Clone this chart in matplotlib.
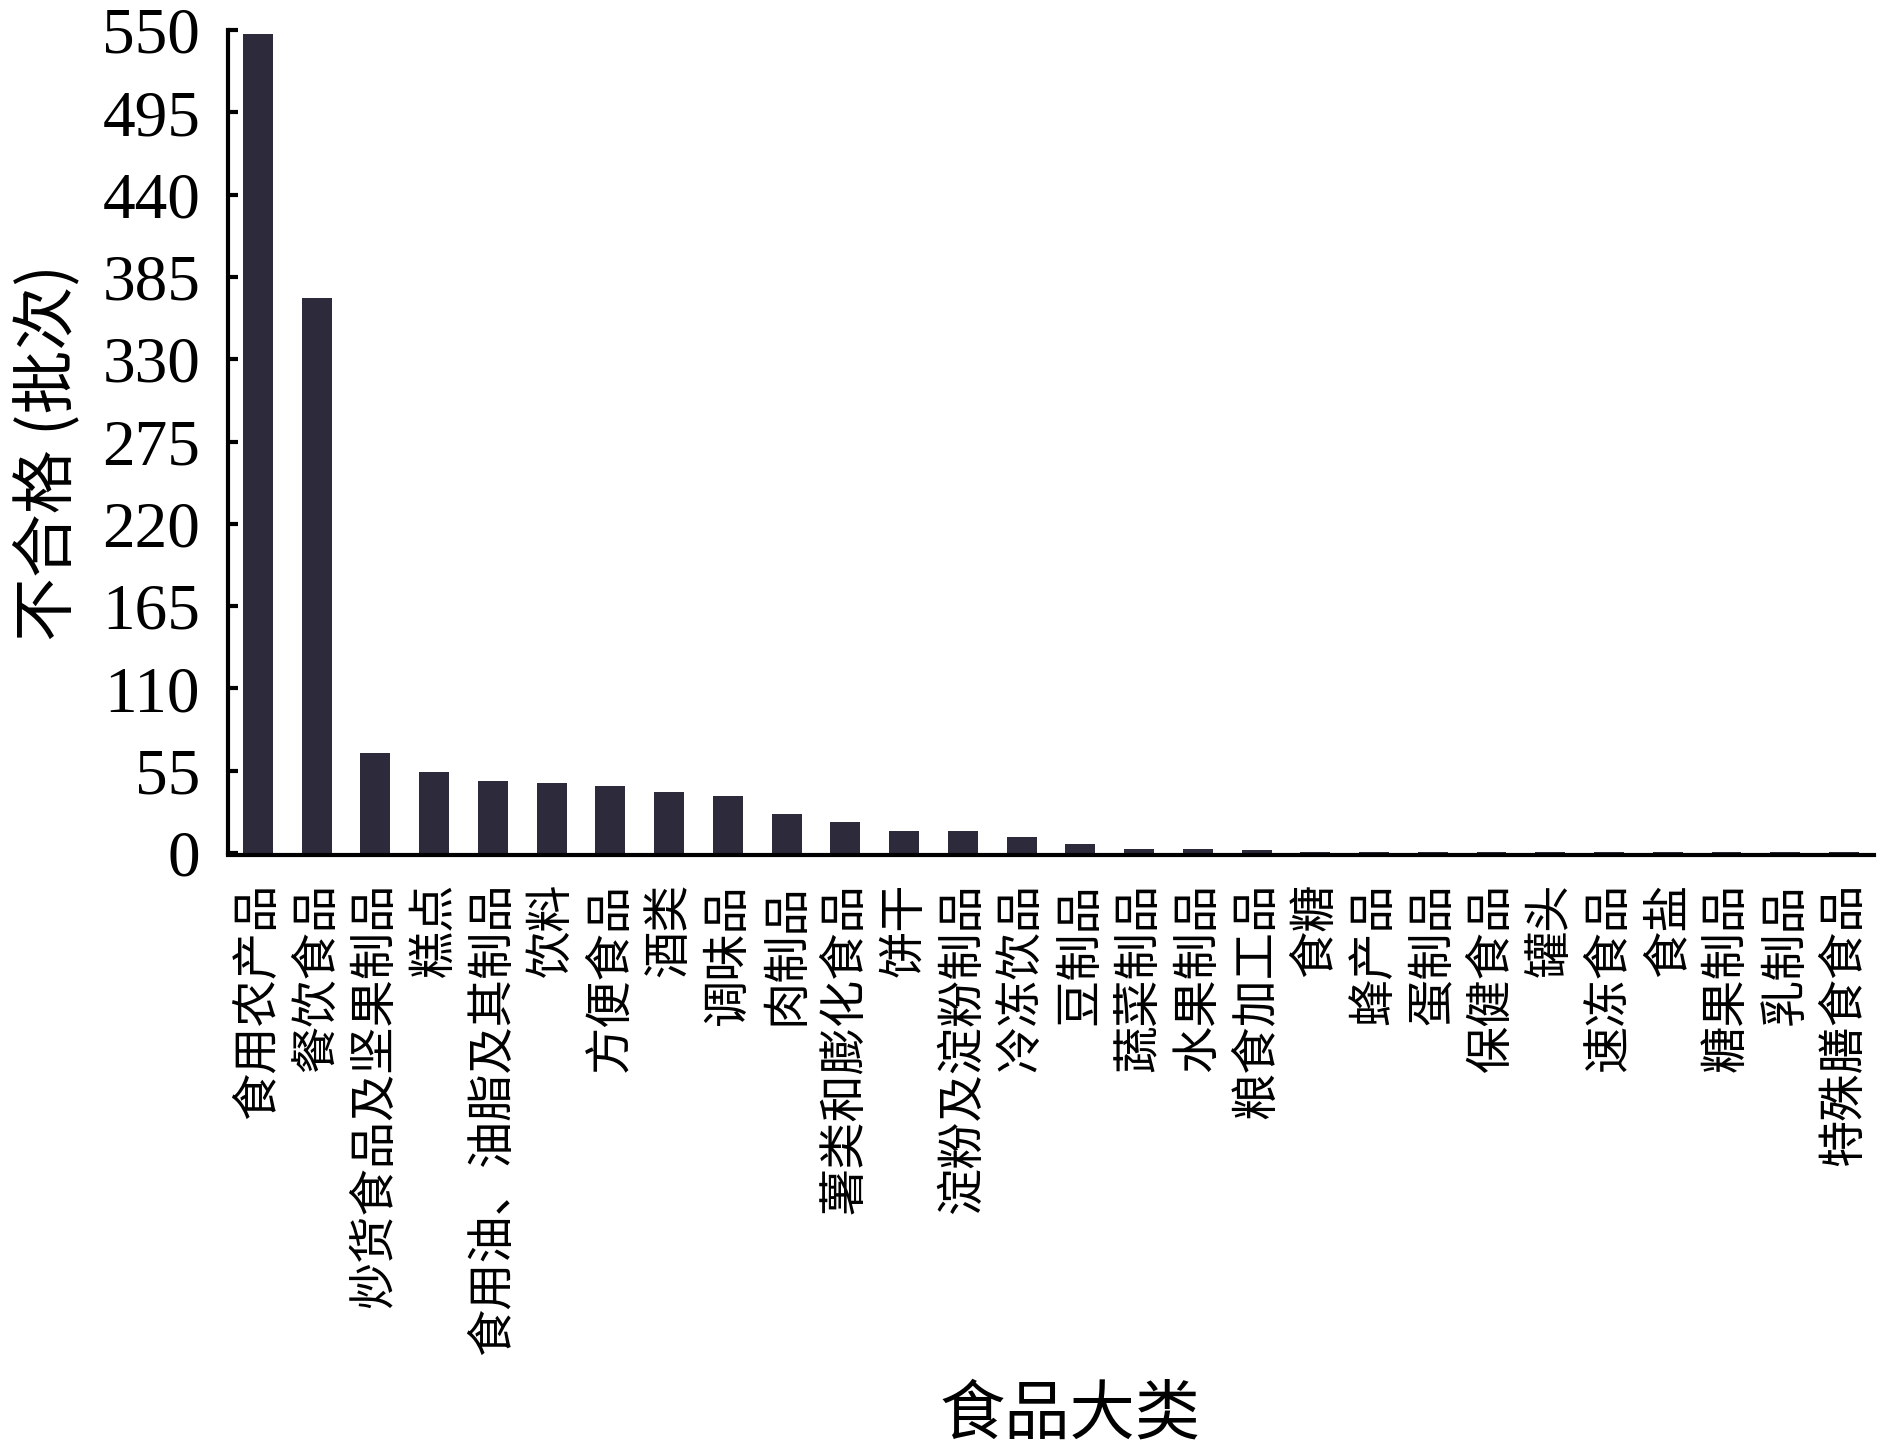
import matplotlib
import matplotlib.pyplot as plt

matplotlib.use('Agg')

# 食品大类及不合格批次
categories = ['食用农产品', '餐饮食品', '炒货食品及坚果制品', '糕点', '食用油、油脂及其制品',
              '饮料', '方便食品', '酒类', '调味品', '肉制品', '薯类和膨化食品', '饼干',
              '淀粉及淀粉制品', '冷冻饮品', '豆制品', '蔬菜制品', '水果制品', '粮食加工品',
              '食糖', '蜂产品', '蛋制品', '保健食品', '罐头', '速冻食品', '食盐', '糖果制品',
              '乳制品', '特殊膳食食品']
counts = [547, 371, 67, 54, 48, 47, 45, 41, 38, 26, 21, 15, 15, 11, 6, 3, 3, 2,
          1, 1, 1, 1, 1, 1, 1, 1, 1, 1]
y_ticks = list(range(0, 551, 55))

num_font = ['Liberation Serif', 'DejaVu Serif']
cjk_font = ['Noto Sans CJK SC', 'Liberation Serif']

fig = plt.figure(figsize=(18.9, 14.55), dpi=100)
ax = fig.add_axes([0.1206, 0.4137, 0.8709, 0.5657])

# 底部轴线稍下移, 让很小的柱子也能看到 (要在设置刻度之前, 否则会被重置)
ax.spines['bottom'].set_position(('outward', 1.5))
for side in ['top', 'right']:
    ax.spines[side].set_visible(False)
for side in ['left', 'bottom']:
    ax.spines[side].set_linewidth(3)
    ax.spines[side].set_color('black')

x = list(range(len(categories)))
ax.bar(x, counts, width=0.51, color='#2d2b3b')

ax.set_xlim(-0.51, len(categories) - 0.49)
ax.set_ylim(0, 550)
ax.set_yticks(y_ticks)
ax.set_yticklabels([str(v) for v in y_ticks], fontfamily=num_font, fontsize=47)
ax.set_xticks(x)
ax.set_xticklabels(categories, rotation=90, fontfamily=cjk_font, fontsize=34,
                   ha='center', va='top')

ax.tick_params(axis='y', direction='in', length=7, width=3, pad=20)
ax.tick_params(axis='x', length=0, pad=20)

fig.text(0.0254, 0.689, '不合格 (批次)', rotation=90, ha='center', va='center',
         fontfamily=cjk_font, fontsize=46)
fig.text(0.566, 0.027, '食品大类', ha='center', va='center',
         fontfamily=cjk_font, fontsize=47)

fig.savefig('out.png', dpi=100)
plt.close(fig)
